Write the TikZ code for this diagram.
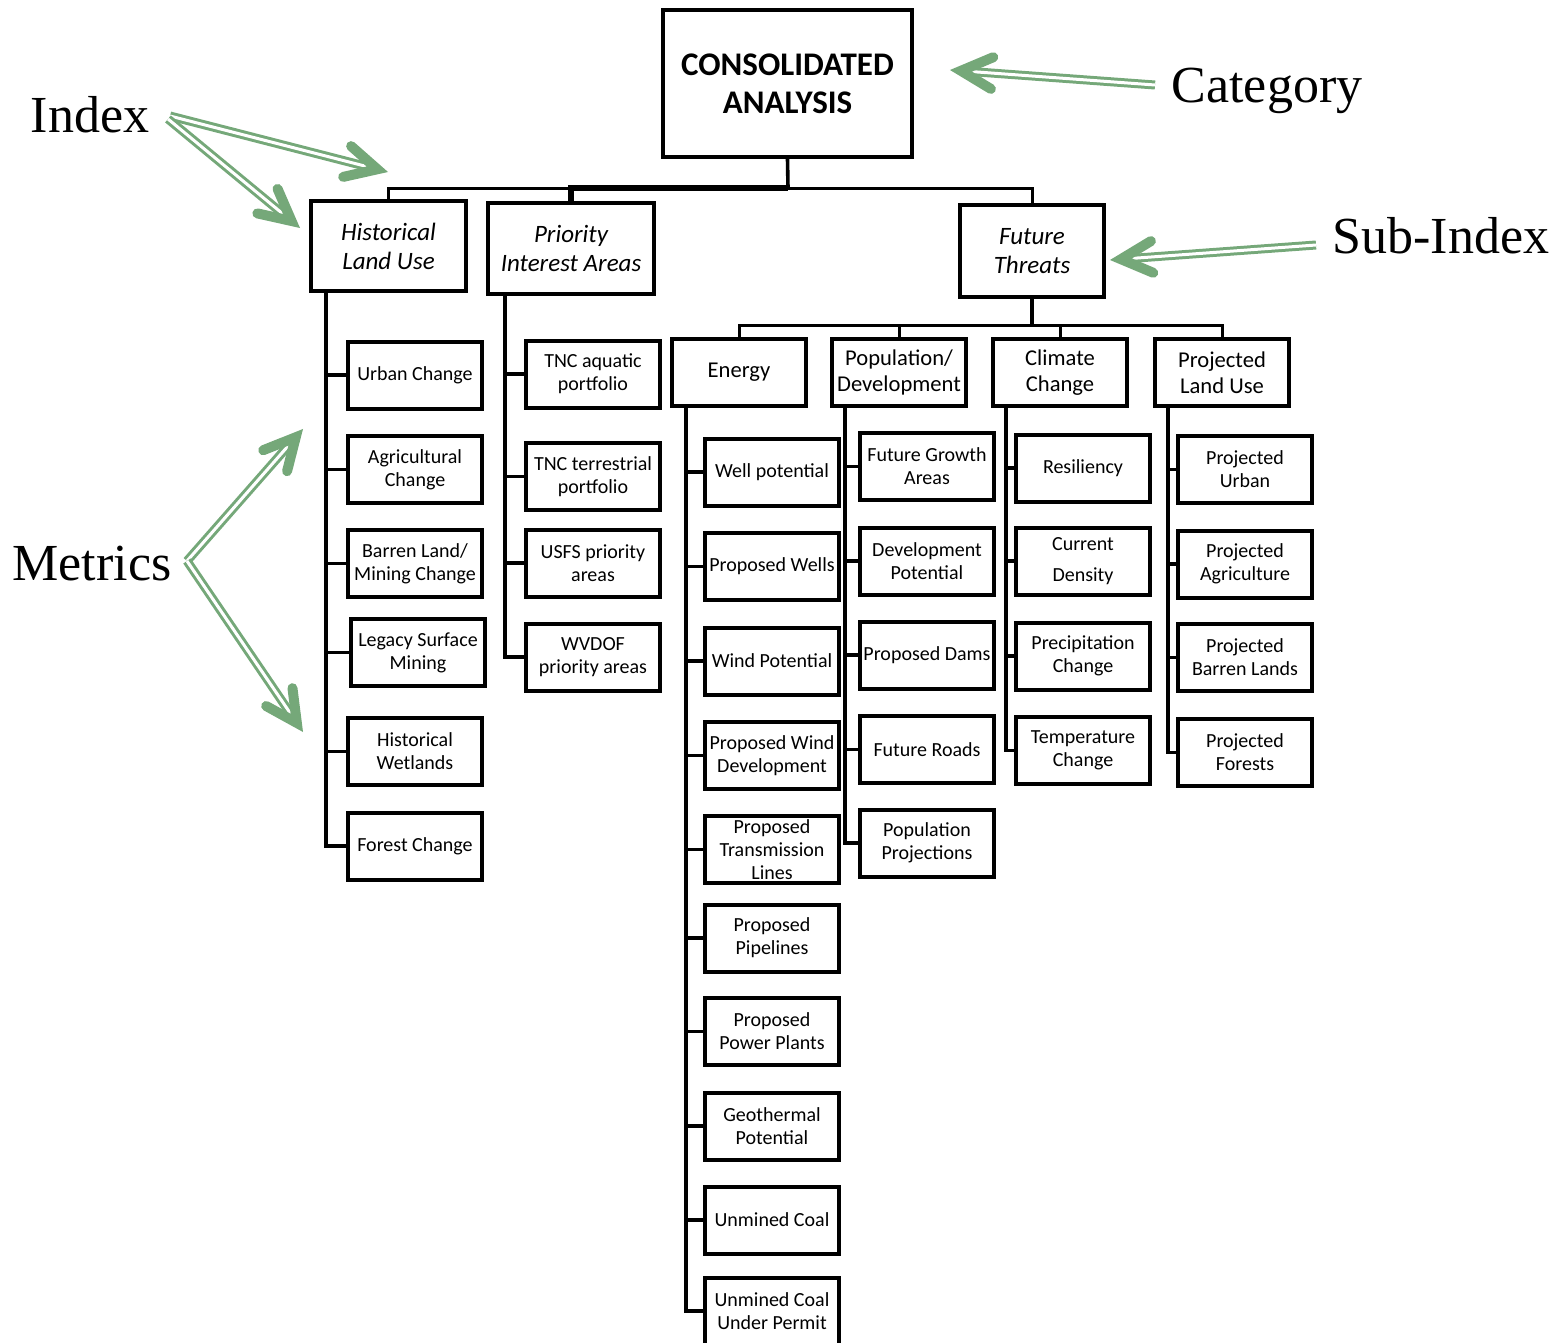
\documentclass[tikz,border=0pt]{standalone}
\usepackage{fontspec}
\setmainfont{Carlito}
\newfontfamily\labelfont{Liberation Serif}
\usetikzlibrary{calc}
\definecolor{gcol}{RGB}{117,168,121}
\tikzset{
  boxbase/.style={draw, line width=2pt, inner sep=0pt, align=center},
  topbox/.style={boxbase, minimum width=124.5pt, minimum height=73.5pt, font={\fontsize{16.5}{19}\selectfont\bfseries}},
  indexbox/.style={boxbase, font={\fontsize{12.5}{14.5}\selectfont\itshape}},
  subbox/.style={boxbase, minimum width=67pt, minimum height=33.5pt, font={\fontsize{11.3}{13}\selectfont}},
  leaf/.style={boxbase, minimum width=67pt, minimum height=33.5pt, font={\fontsize{10}{11.5}\selectfont}},
  conn/.style={line width=1.8pt},
  thinconn/.style={line width=1.5pt},
  thickconn/.style={line width=3pt},
  annot/.style={font={\labelfont\fontsize{26}{30}\selectfont}, inner sep=0pt},
  gshaft/.style={draw=gcol, line width=1.5pt, double=white, double distance=1.5pt},
  ghead/.style={draw=gcol, line width=5pt, line cap=round, line join=miter},
}
\newcommand{\garrow}[2]{%
  \coordinate (tmpV) at ($(#2)!5.5pt!(#1)$);
  \draw[gshaft] (#1) -- (tmpV);
  \draw[ghead] ($(tmpV)!17.5pt!27:(#1)$) -- (tmpV) -- ($(tmpV)!17.5pt!-27:(#1)$);
}
\begin{document}
\begin{tikzpicture}[x=0.5pt,y=-0.5pt]
\useasboundingbox (0,0) rectangle (1564,1343);

% top
\node[topbox] (top) at (787.5,83.5) {CONSOLIDATED\\ANALYSIS};
% index
\node[indexbox, minimum width=77.5pt, minimum height=45pt] (hlu) at (388.5,246) {Historical\\Land Use};
\node[indexbox, minimum width=83pt, minimum height=45.5pt] (pia) at (571,248.5) {Priority\\Interest Areas};
\node[indexbox, minimum width=72pt, minimum height=46pt] (ft) at (1032,251) {Future\\Threats};

\coordinate (bus) at (788,188);
\draw[conn] (top.south) -- (bus);
\draw[thinconn] (hlu.north) |- (bus);
\draw[thickconn] (pia.north) |- (bus);
\draw[thinconn] (ft.north) |- (bus);

% sub-index
\node[subbox] (en) at (739,372.5) {Energy};
\node[subbox] (pop) at (899,372.5) {Population/\\Development};
\node[subbox] (cl) at (1060,372.5) {Climate\\Change};
\node[subbox] (plu) at (1222,372.5) {Projected\\Land Use};

\coordinate (bus2) at (1032,325);
\draw[conn] (ft.south) -- (bus2);
\draw[thinconn] (en.north) |- (bus2);
\draw[thinconn] (plu.north) |- (bus2);
\draw[thinconn] (pop.north) -- (pop.north |- bus2);
\draw[thinconn] (cl.north) -- (cl.north |- bus2);

% Historical Land Use leaves
\node[leaf] (uc) at (415,375) {Urban Change};
\node[leaf] (ac) at (415,469.5) {Agricultural\\Change};
\node[leaf] (bl) at (415,563.5) {Barren Land/\\Mining Change};
\node[leaf] (ls) at (418,652.5) {Legacy Surface\\Mining};
\node[leaf] (hw) at (415,751.5) {Historical\\Wetlands};
\node[leaf] (fc) at (415,846) {Forest Change};
\coordinate (hluS) at (326,291);
\draw[conn] (hluS) |- (fc.west);
\foreach \n in {uc,ac,bl,ls,hw} \draw[conn] (hluS |- \n.west) -- (\n.west);

% Priority Interest Areas leaves
\node[leaf] (ta) at (593,374) {TNC aquatic\\portfolio};
\node[leaf] (tt) at (593,476.5) {TNC terrestrial\\portfolio};
\node[leaf] (us) at (593,563) {USFS priority\\areas};
\node[leaf] (wv) at (593,657) {WVDOF\\priority areas};
\coordinate (piaS) at (505,294);
\draw[conn] (piaS) |- (wv.west);
\foreach \n in {ta,tt,us} \draw[conn] (piaS |- \n.west) -- (\n.west);

% Energy leaves
\node[leaf] (e1) at (772,472) {Well potential};
\node[leaf] (e2) at (772,566.5) {Proposed Wells};
\node[leaf] (e3) at (772,661) {Wind Potential};
\node[leaf] (e4) at (772,755.5) {Proposed Wind\\Development};
\node[leaf] (e5) at (772,849.5) {Proposed\\Transmission\\Lines};
\node[leaf] (e6) at (772,938) {Proposed\\Pipelines};
\node[leaf] (e7) at (772,1031.5) {Proposed\\Power Plants};
\node[leaf] (e8) at (772,1126) {Geothermal\\Potential};
\node[leaf] (e9) at (772,1220) {Unmined Coal};
\node[leaf] (e10) at (772,1311) {Unmined Coal\\Under Permit};
\coordinate (enS) at (686,406);
\draw[conn] (enS) |- (e10.west);
\foreach \n in {e1,e2,e3,e4,e5,e6,e7,e8,e9} \draw[conn] (enS |- \n.west) -- (\n.west);

% Population leaves
\node[leaf] (p1) at (927,466.5) {Future Growth\\Areas};
\node[leaf] (p2) at (927,561) {Development\\Potential};
\node[leaf] (p3) at (927,655) {Proposed Dams};
\node[leaf] (p4) at (927,749.5) {Future Roads};
\node[leaf] (p5) at (927,843) {Population\\Projections};
\coordinate (popS) at (845,406);
\draw[conn] (popS) |- (p5.west);
\foreach \n in {p1,p2,p3,p4} \draw[conn] (popS |- \n.west) -- (\n.west);

% Climate leaves
\node[leaf] (c1) at (1083,468) {Resiliency};
\node[leaf] (c2) at (1083,561) {Current\\[4pt]Density};
\node[leaf] (c3) at (1083,656) {Precipitation\\Change};
\node[leaf] (c4) at (1083,750.5) {Temperature\\Change};
\coordinate (clS) at (1006,406);
\draw[conn] (clS) |- (c4.west);
\foreach \n in {c1,c2,c3} \draw[conn] (clS |- \n.west) -- (\n.west);

% Projected leaves
\node[leaf] (r1) at (1245,469.5) {Projected\\Urban};
\node[leaf] (r2) at (1245,564) {Projected\\Agriculture};
\node[leaf] (r3) at (1245,657.5) {Projected\\Barren Lands};
\node[leaf] (r4) at (1245,752.5) {Projected\\Forests};
\coordinate (pluS) at (1168,406);
\draw[conn] (pluS) |- (r4.west);
\foreach \n in {r1,r2,r3} \draw[conn] (pluS |- \n.west) -- (\n.west);

% annotation labels
\node[annot, anchor=base] (lindex) at (90,133) {Index};
\node[annot, anchor=base] (lcat) at (1267,103) {Category};
\node[annot, anchor=base] (lsub) at (1441,253) {Sub-Index};
\node[annot, anchor=base] (lmet) at (92,580) {Metrics};

% green arrows
\coordinate (catT) at (1155,85);
\coordinate (catH) at (950,70);
\garrow{catT}{catH}
\coordinate (subT) at (1316,245);
\coordinate (subH) at (1110,260);
\garrow{subT}{subH}
\coordinate (idxT1) at (170,116);
\coordinate (idxH1) at (388,172);
\garrow{idxT1}{idxH1}
\coordinate (idxT2) at (168,119);
\coordinate (idxH2) at (300,228);
\garrow{idxT2}{idxH2}
\coordinate (metV) at (187,561);
\coordinate (metH1) at (303,429);
\coordinate (metH2) at (303,732);
\garrow{metV}{metH1}
\garrow{metV}{metH2}
\end{tikzpicture}
\end{document}
